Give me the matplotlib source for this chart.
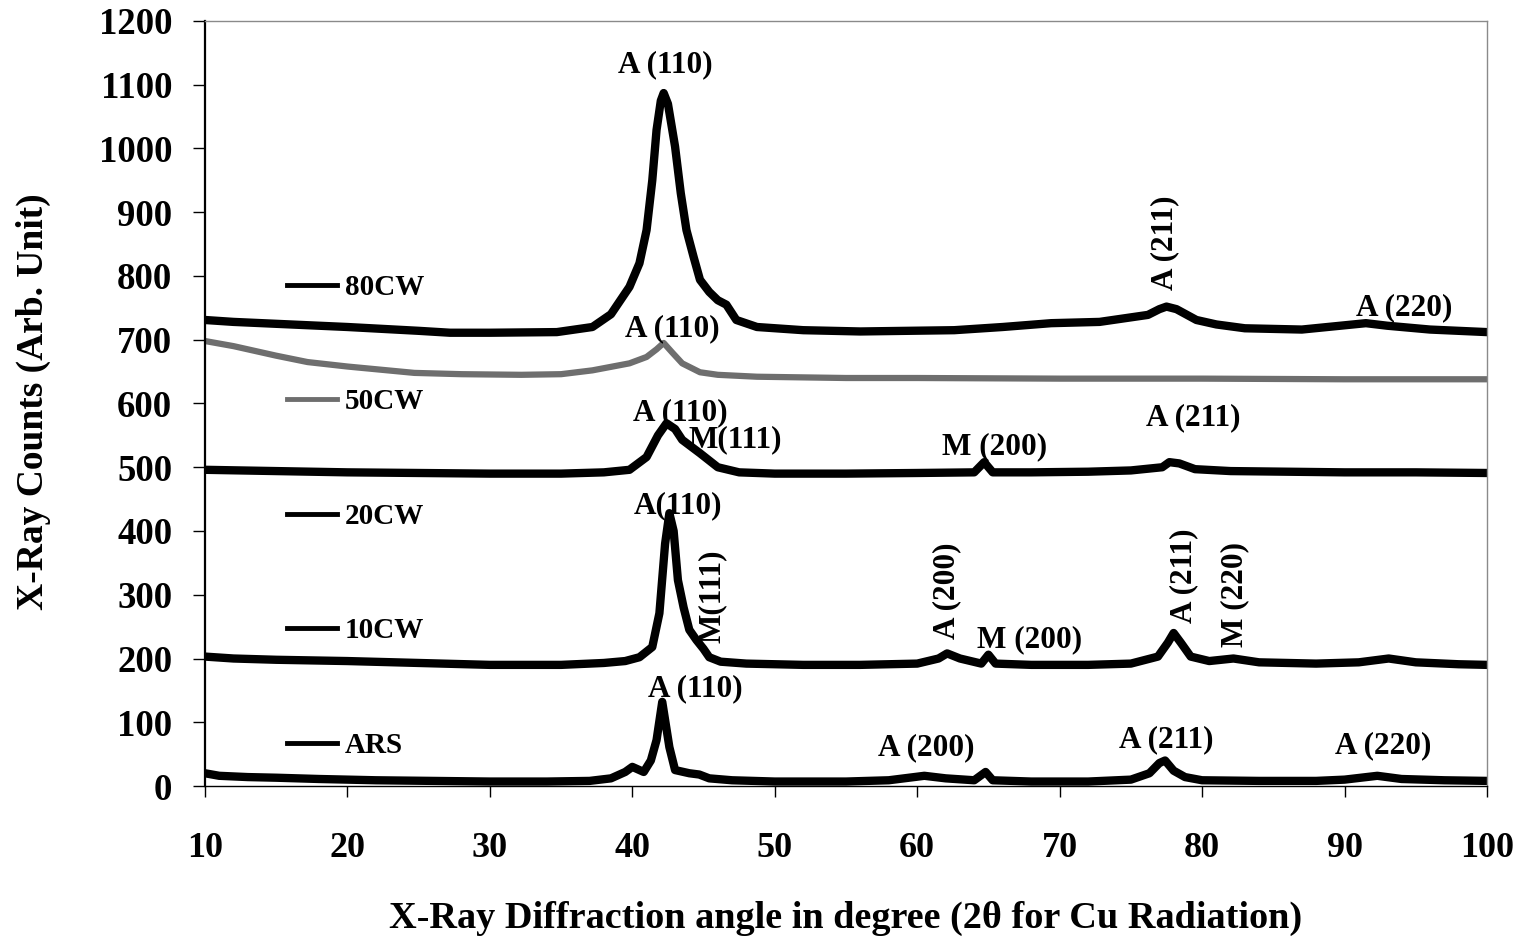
import numpy as np
import matplotlib
matplotlib.use("Agg")
import matplotlib.pyplot as plt

# XRD patterns, each sample offset vertically
ars_x = [10, 11, 13, 15, 18, 22, 26, 30, 34, 37, 38.5, 39.5, 40, 40.8, 41.3, 41.7, 42.1, 42.6, 43,
         44, 44.7, 45.4, 47, 50, 55, 58, 60.5, 62, 64, 64.8, 65.3, 68, 72, 75, 76.3, 77, 77.4, 78,
         78.8, 80, 84, 88, 90, 92.3, 94, 97, 100]
ars_y = [20, 16, 14, 13, 11, 9, 8, 7, 7, 8, 12, 22, 30, 22, 40, 72, 132, 61, 25,
         20, 18, 12, 9, 7, 7, 9, 16, 12, 9, 22, 9, 7, 7, 10, 20, 36, 40, 24,
         14, 9, 8, 8, 10, 16, 11, 9, 8]

cw10_x = [10, 12, 15, 20, 25, 30, 35, 38, 39.5, 40.5, 41.4, 41.9, 42.3, 42.6, 42.9, 43.2, 43.6,
          44.0, 44.5, 45.0, 45.4, 46.2, 48, 52, 56, 60, 61.5, 62.1, 63, 64.5, 65, 65.5, 68, 72,
          75, 76.9, 77.6, 78.0, 78.5, 79.2, 80.5, 82.2, 84, 88, 91, 93.1, 95, 98, 100]
cw10_y = [203, 200, 198, 196, 193, 190, 190, 193, 196, 202, 218, 271, 380, 428, 400, 323, 280,
          245, 229, 215, 202, 195, 192, 190, 190, 192, 200, 208, 200, 192, 206, 192, 190, 190,
          192, 203, 225, 240, 225, 203, 196, 200, 194, 192, 194, 200, 194, 191, 190]

cw20_x = [10, 15, 20, 25, 30, 35, 38, 39.8, 41, 41.8, 42.4, 43, 43.5, 44.75, 46, 47.5, 50, 55,
          60, 64, 64.7, 65.3, 68, 72, 75, 77.2, 77.7, 78.4, 79.5, 82, 86, 90, 95, 100]
cw20_y = [496, 494, 492, 491, 490, 490, 492, 496, 516, 550, 569, 560, 543, 522, 500, 492, 490, 490,
          491, 492, 508, 492, 492, 493, 495, 500, 508, 506, 497, 494, 493, 492, 492, 491]

cw50_x = [10, 12, 15, 17.2, 20, 24.7, 28, 32.2, 35, 37.2, 39.8, 41, 41.7, 42.2, 42.8, 43.5, 44.75,
          46, 48.75, 55, 60, 70, 80, 90, 100]
cw50_y = [698, 690, 675, 665, 658, 648, 646, 645, 646, 652, 663, 673, 685, 695, 680, 663, 649,
          645, 642, 640, 640, 639, 639, 638, 638]

cw80_x = [10, 12, 15, 20, 25, 27.2, 30, 34.7, 37.2, 38.5, 39.8, 40.5, 41, 41.4, 41.7, 42.0, 42.2,
          42.5, 43, 43.4, 43.8, 44.3, 44.75, 45.4, 46, 46.6, 47.3, 48.75, 52, 56, 62.6, 66, 69.4,
          72.8, 76.2, 77.0, 77.5, 78.2, 79.6, 81, 83, 87, 91.5, 93, 96, 100]
cw80_y = [731, 728, 725, 720, 714, 711, 711, 712, 720, 740, 783, 820, 872, 950, 1029, 1075, 1087,
          1070, 1003, 930, 872, 830, 794, 775, 762, 755, 731, 720, 715, 713, 715, 720, 726,
          728, 739, 748, 752, 748, 731, 724, 718, 716, 726, 722, 716, 712]

# peak labels: (text, x, y, rotation)
peak_labels = [
    ("A (110)", 42.3, 1131, 0), ("A (211)", 77.4, 852, 90), ("A (220)", 94.2, 750, 0),
    ("A (110)", 42.8, 717, 0),
    ("A (110)", 43.4, 585, 0), ("M(111)", 47.2, 543, 0), ("M (200)", 65.4, 532, 0),
    ("A (211)", 79.4, 577, 0),
    ("A(110)", 43.2, 439, 0), ("M(111)", 45.6, 298, 90), ("A (200)", 62.1, 306, 90),
    ("M (200)", 67.9, 229, 0), ("A (211)", 78.7, 330, 90), ("M (220)", 82.3, 300, 90),
    ("A (110)", 44.4, 152, 0), ("A (200)", 60.6, 60, 0), ("A (211)", 77.5, 72, 0),
    ("A (220)", 92.7, 63, 0),
]

serif = "Liberation Serif"
W, H = 1524, 943
fig = plt.figure(figsize=(W / 100, H / 100), dpi=100)
ax = fig.add_axes([205 / W, 1 - 786 / H, (1487 - 205) / W, (786 - 21) / H])

lw = 6
l80, = ax.plot(cw80_x, cw80_y, color="black", lw=lw, solid_joinstyle="round", label="80CW")
l50, = ax.plot(cw50_x, cw50_y, color="#6e6e6e", lw=4.5, solid_joinstyle="round", label="50CW")
l20, = ax.plot(cw20_x, cw20_y, color="black", lw=lw, solid_joinstyle="round", label="20CW")
l10, = ax.plot(cw10_x, cw10_y, color="black", lw=lw, solid_joinstyle="round", label="10CW")
l0, = ax.plot(ars_x, ars_y, color="black", lw=lw, solid_joinstyle="round", label="ARS")

ax.set_xlim(10, 100)
ax.set_ylim(0, 1200)
ax.set_xticks(np.arange(10, 101, 10))
ax.set_yticks(np.arange(0, 1201, 100))

ax.tick_params(axis="y", direction="out", length=8.5, width=1, pad=15)
ax.tick_params(axis="x", direction="out", length=8, width=1, pad=25)
for t in ax.get_yticklabels():
    t.set_fontfamily(serif)
    t.set_fontweight("bold")
    t.set_fontsize(26.5)
for t in ax.get_xticklabels():
    t.set_fontfamily(serif)
    t.set_fontweight("bold")
    t.set_fontsize(26)

ax.spines["left"].set_linewidth(1.6)
ax.spines["bottom"].set_linewidth(1.0)
for s in ("top", "right"):
    ax.spines[s].set_color("#8a8a8a")
    ax.spines[s].set_linewidth(1.0)

for txt, x, y, rot in peak_labels:
    ax.text(x, y, txt, rotation=rot, ha="center", va="center",
            fontfamily=serif, fontweight="bold", fontsize=22.5)

leg = ax.legend(handles=[l80, l50, l20, l10, l0], loc="upper left",
                bbox_to_anchor=(0.064, 0.6693), frameon=False, borderpad=0,
                borderaxespad=0, handlelength=1.71, handletextpad=0.27,
                labelspacing=3.0, prop={"family": serif, "weight": "bold", "size": 21})
for line in leg.get_lines():
    line.set_linewidth(3.5)

fig.text(33 / W, 1 - 402 / H, "X-Ray Counts (Arb. Unit)", rotation=90, ha="center",
         va="center", fontfamily=serif, fontweight="bold", fontsize=27)
fig.text(846 / W, 1 - 918 / H, "X-Ray Diffraction angle in degree (2\u03b8 for Cu Radiation)",
         ha="center", va="center", fontfamily=serif, fontweight="bold", fontsize=27.5)

fig.savefig("out.png", dpi=100)
